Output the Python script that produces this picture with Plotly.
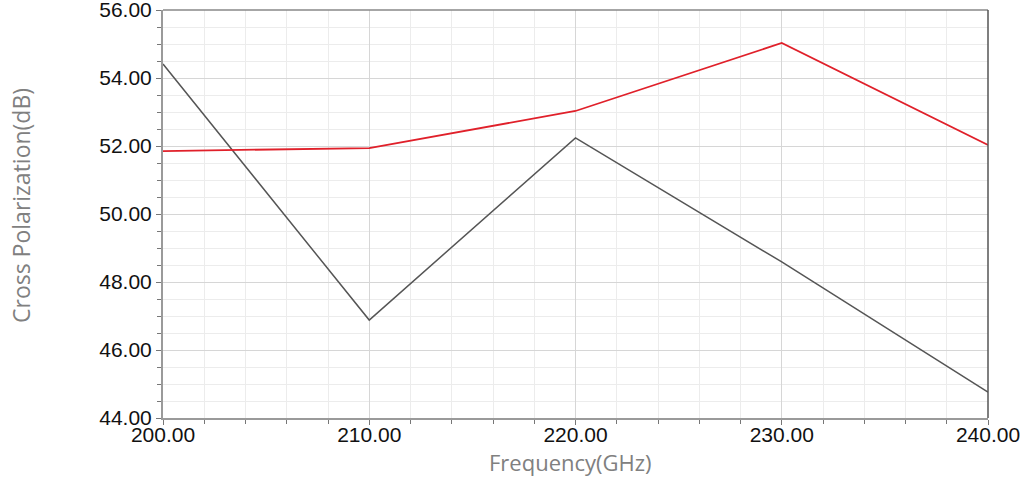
import plotly.graph_objects as go

freq = [200, 210, 220, 230, 240]
black_series = [54.41, 46.88, 52.24, 48.59, 44.76]
red_series = [51.85, 51.94, 53.03, 55.03, 52.03]

x_ticks = [200, 210, 220, 230, 240]
x_tick_labels = ["200.00", "210.00", "220.00", "230.00", "240.00"]
y_ticks = [44, 46, 48, 50, 52, 54, 56]
y_tick_labels = ["44.00", "46.00", "48.00", "50.00", "52.00", "54.00", "56.00"]

fig = go.Figure()
fig.add_trace(go.Scatter(x=freq, y=black_series, mode="lines",
                         line=dict(color="#555555", width=1.5), showlegend=False))
fig.add_trace(go.Scatter(x=freq, y=red_series, mode="lines",
                         line=dict(color="#e0202a", width=1.8), showlegend=False))

tickfont = dict(family="Liberation Sans, Arial", size=21, color="#111111")
titlefont = dict(family="Open Sans", size=23, color="#808080")
xtitlefont = dict(family="Open Sans", size=22, color="#808080")

fig.update_xaxes(
    range=[200, 240], tickvals=x_ticks, ticktext=x_tick_labels,
    showline=True, linecolor="#9a9a9a", linewidth=2, mirror=False,
    ticks="outside", ticklen=5, tickcolor="#777777", tickwidth=1,
    showgrid=True, gridcolor="#d6d6d6", gridwidth=1,
    minor=dict(dtick=2, showgrid=True, gridcolor="#ececec", ticks="outside", ticklen=4, tickcolor="#777777"),
    tickfont=tickfont, zeroline=False, ticklabeloverflow="allow", automargin=False,
    ticklabelstandoff=-8,
)
fig.update_yaxes(
    range=[44, 56], tickvals=y_ticks, ticktext=y_tick_labels,
    showline=True, linecolor="#9a9a9a", linewidth=2, mirror=False,
    ticks="outside", ticklen=5, tickcolor="#777777", tickwidth=1,
    showgrid=True, gridcolor="#d6d6d6", gridwidth=1,
    minor=dict(dtick=0.5, showgrid=True, gridcolor="#ececec", ticks="outside", ticklen=4, tickcolor="#777777"),
    tickfont=tickfont, zeroline=False, ticklabeloverflow="allow", automargin=False,
)

fig.add_shape(type="line", xref="paper", yref="paper", x0=0, x1=1, y0=1, y1=1,
              line=dict(color="#888888", width=1.5))
fig.add_shape(type="line", xref="paper", yref="paper", x0=1, x1=1, y0=0, y1=1,
              line=dict(color="#555555", width=1.5))

W, H = 1034, 477
L, R, T, B = 163, 46, 10, 59
pw, ph = W - L - R, H - T - B

fig.add_annotation(text="Frequency(GHz)", xref="paper", yref="paper",
                   x=(570 - L) / pw, y=-(462 - (H - B)) / ph,
                   xanchor="center", yanchor="middle", showarrow=False, font=xtitlefont)
fig.add_annotation(text="Cross Polarization(dB)", xref="paper", yref="paper",
                   x=(21 - L) / pw, y=1 - (206 - T) / ph, textangle=-90,
                   xanchor="center", yanchor="middle", showarrow=False, font=titlefont)

fig.update_layout(
    width=W, height=H,
    margin=dict(l=L, r=R, t=T, b=B),
    plot_bgcolor="white", paper_bgcolor="white",
)

fig.write_html("out.html")
